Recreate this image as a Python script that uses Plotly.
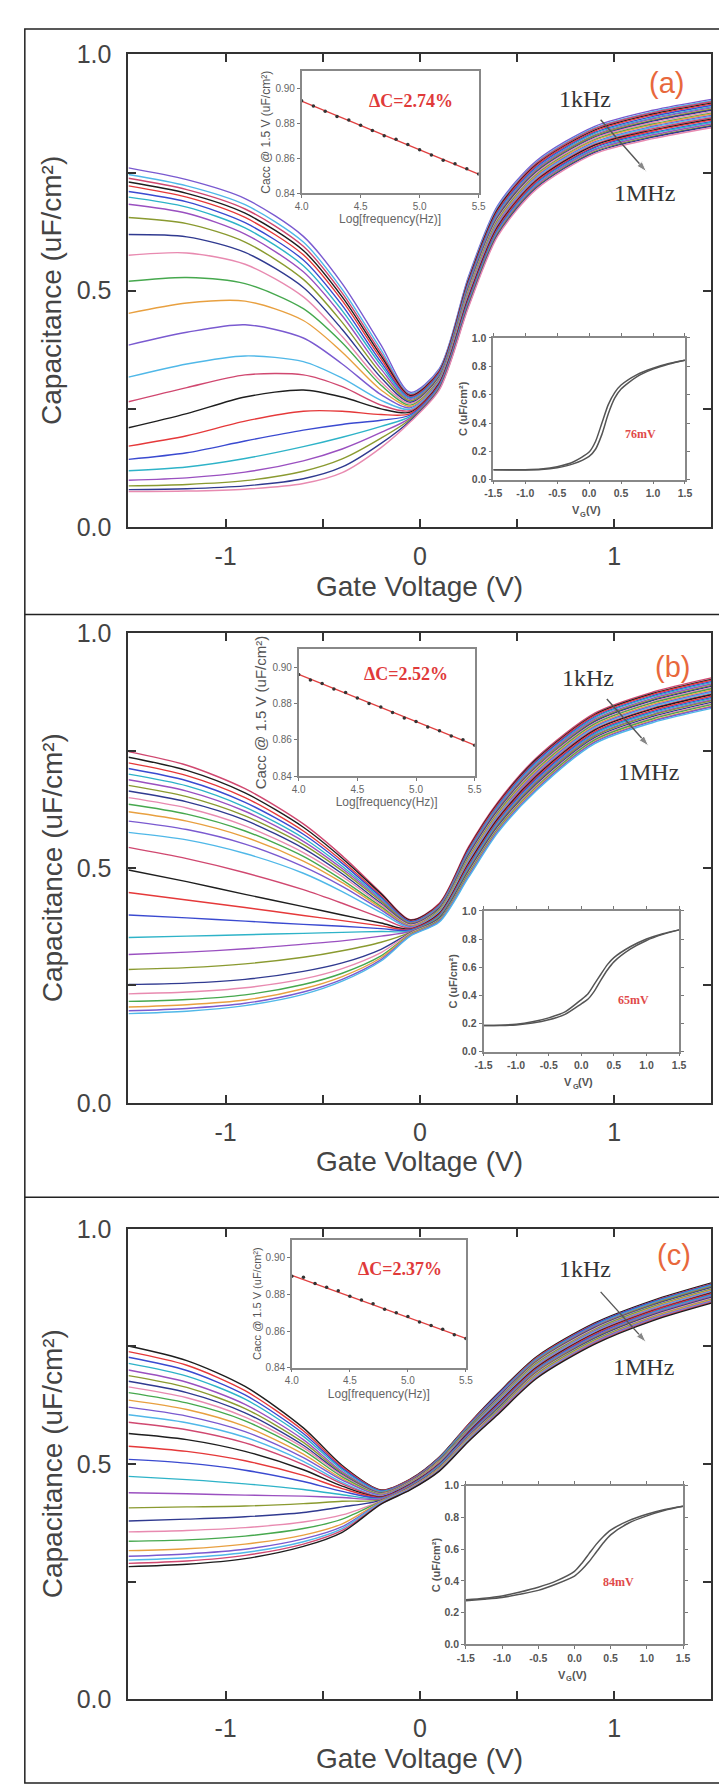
import plotly.graph_objects as go

W, H = 727, 1791

# ---------------- data ----------------
volt_main = [-1.5, -1.2, -0.9, -0.6, -0.4, -0.2, -0.05, 0.1, 0.25, 0.4, 0.6, 0.9, 1.2, 1.5]

cap_a = [
    [0.760, 0.735, 0.695, 0.615, 0.515, 0.385, 0.285, 0.335, 0.530, 0.680, 0.775, 0.848, 0.882, 0.905],
    [0.746, 0.722, 0.682, 0.603, 0.503, 0.375, 0.282, 0.333, 0.527, 0.677, 0.772, 0.845, 0.879, 0.902],
    [0.738, 0.714, 0.673, 0.594, 0.495, 0.368, 0.280, 0.331, 0.524, 0.674, 0.770, 0.843, 0.877, 0.900],
    [0.730, 0.706, 0.664, 0.585, 0.487, 0.362, 0.278, 0.329, 0.522, 0.672, 0.767, 0.840, 0.874, 0.897],
    [0.722, 0.698, 0.655, 0.576, 0.479, 0.356, 0.276, 0.327, 0.519, 0.669, 0.765, 0.838, 0.872, 0.895],
    [0.710, 0.688, 0.644, 0.565, 0.469, 0.349, 0.274, 0.325, 0.516, 0.666, 0.762, 0.835, 0.869, 0.892],
    [0.698, 0.677, 0.633, 0.553, 0.458, 0.342, 0.272, 0.323, 0.513, 0.663, 0.759, 0.833, 0.866, 0.889],
    [0.683, 0.664, 0.620, 0.540, 0.447, 0.334, 0.270, 0.321, 0.510, 0.660, 0.757, 0.830, 0.864, 0.887],
    [0.655, 0.642, 0.603, 0.524, 0.433, 0.325, 0.267, 0.319, 0.507, 0.657, 0.754, 0.828, 0.861, 0.884],
    [0.619, 0.614, 0.581, 0.507, 0.418, 0.316, 0.264, 0.317, 0.505, 0.655, 0.752, 0.825, 0.859, 0.882],
    [0.575, 0.580, 0.556, 0.487, 0.403, 0.307, 0.261, 0.315, 0.502, 0.652, 0.749, 0.823, 0.856, 0.879],
    [0.520, 0.528, 0.515, 0.462, 0.390, 0.300, 0.258, 0.313, 0.499, 0.649, 0.746, 0.820, 0.853, 0.876],
    [0.452, 0.474, 0.478, 0.437, 0.370, 0.290, 0.255, 0.311, 0.496, 0.646, 0.744, 0.818, 0.851, 0.874],
    [0.385, 0.412, 0.428, 0.400, 0.345, 0.280, 0.252, 0.310, 0.493, 0.643, 0.741, 0.815, 0.848, 0.871],
    [0.317, 0.345, 0.362, 0.350, 0.315, 0.268, 0.249, 0.308, 0.490, 0.640, 0.739, 0.813, 0.846, 0.869],
    [0.265, 0.295, 0.322, 0.322, 0.297, 0.258, 0.246, 0.306, 0.488, 0.638, 0.736, 0.810, 0.843, 0.866],
    [0.210, 0.240, 0.275, 0.290, 0.275, 0.250, 0.243, 0.304, 0.485, 0.635, 0.733, 0.808, 0.840, 0.863],
    [0.171, 0.193, 0.224, 0.245, 0.245, 0.238, 0.240, 0.302, 0.482, 0.632, 0.731, 0.805, 0.838, 0.861],
    [0.143, 0.157, 0.182, 0.205, 0.217, 0.226, 0.237, 0.300, 0.479, 0.629, 0.728, 0.803, 0.835, 0.858],
    [0.119, 0.127, 0.145, 0.170, 0.190, 0.213, 0.234, 0.298, 0.476, 0.626, 0.726, 0.800, 0.833, 0.856],
    [0.099, 0.104, 0.116, 0.140, 0.165, 0.200, 0.231, 0.296, 0.473, 0.623, 0.723, 0.798, 0.830, 0.853],
    [0.087, 0.090, 0.098, 0.118, 0.144, 0.188, 0.228, 0.294, 0.471, 0.621, 0.720, 0.795, 0.827, 0.850],
    [0.079, 0.081, 0.087, 0.102, 0.127, 0.177, 0.225, 0.292, 0.468, 0.618, 0.718, 0.793, 0.825, 0.848],
    [0.075, 0.076, 0.080, 0.092, 0.115, 0.168, 0.222, 0.290, 0.465, 0.615, 0.715, 0.790, 0.822, 0.845],
]

cap_b = [
    [0.748, 0.719, 0.669, 0.594, 0.526, 0.447, 0.390, 0.425, 0.545, 0.640, 0.735, 0.830, 0.875, 0.905],
    [0.736, 0.708, 0.660, 0.587, 0.521, 0.445, 0.389, 0.423, 0.542, 0.637, 0.732, 0.827, 0.872, 0.902],
    [0.724, 0.697, 0.650, 0.579, 0.515, 0.441, 0.387, 0.422, 0.540, 0.635, 0.729, 0.825, 0.870, 0.900],
    [0.712, 0.686, 0.640, 0.572, 0.510, 0.438, 0.386, 0.420, 0.537, 0.632, 0.727, 0.822, 0.867, 0.897],
    [0.700, 0.675, 0.630, 0.564, 0.504, 0.435, 0.384, 0.419, 0.535, 0.630, 0.724, 0.820, 0.865, 0.895],
    [0.688, 0.664, 0.621, 0.557, 0.499, 0.432, 0.383, 0.417, 0.532, 0.627, 0.721, 0.817, 0.862, 0.892],
    [0.676, 0.652, 0.611, 0.550, 0.494, 0.429, 0.382, 0.415, 0.529, 0.624, 0.718, 0.814, 0.859, 0.889],
    [0.664, 0.641, 0.602, 0.542, 0.488, 0.425, 0.380, 0.414, 0.527, 0.622, 0.715, 0.812, 0.857, 0.887],
    [0.650, 0.628, 0.590, 0.533, 0.482, 0.422, 0.379, 0.412, 0.524, 0.619, 0.713, 0.809, 0.854, 0.884],
    [0.636, 0.615, 0.579, 0.525, 0.475, 0.418, 0.377, 0.411, 0.522, 0.617, 0.710, 0.807, 0.852, 0.882],
    [0.620, 0.600, 0.566, 0.515, 0.469, 0.415, 0.376, 0.409, 0.519, 0.614, 0.707, 0.804, 0.849, 0.879],
    [0.600, 0.582, 0.551, 0.503, 0.461, 0.411, 0.375, 0.407, 0.516, 0.611, 0.704, 0.801, 0.846, 0.876],
    [0.576, 0.560, 0.531, 0.489, 0.450, 0.405, 0.373, 0.406, 0.514, 0.609, 0.701, 0.799, 0.844, 0.874],
    [0.544, 0.520, 0.490, 0.454, 0.425, 0.394, 0.372, 0.404, 0.511, 0.606, 0.699, 0.796, 0.841, 0.871],
    [0.496, 0.471, 0.444, 0.418, 0.400, 0.383, 0.370, 0.403, 0.509, 0.604, 0.696, 0.794, 0.839, 0.869],
    [0.448, 0.432, 0.416, 0.399, 0.388, 0.377, 0.369, 0.401, 0.506, 0.601, 0.693, 0.791, 0.836, 0.866],
    [0.400, 0.394, 0.387, 0.380, 0.376, 0.371, 0.368, 0.399, 0.503, 0.598, 0.690, 0.788, 0.833, 0.863],
    [0.352, 0.355, 0.358, 0.361, 0.363, 0.365, 0.366, 0.398, 0.501, 0.596, 0.687, 0.786, 0.831, 0.861],
    [0.316, 0.321, 0.328, 0.338, 0.345, 0.355, 0.365, 0.396, 0.498, 0.593, 0.685, 0.783, 0.828, 0.858],
    [0.284, 0.288, 0.296, 0.310, 0.324, 0.342, 0.363, 0.395, 0.496, 0.591, 0.682, 0.781, 0.826, 0.856],
    [0.252, 0.255, 0.263, 0.280, 0.298, 0.327, 0.362, 0.393, 0.493, 0.588, 0.679, 0.778, 0.823, 0.853],
    [0.232, 0.236, 0.245, 0.264, 0.286, 0.320, 0.361, 0.391, 0.490, 0.585, 0.676, 0.775, 0.820, 0.850],
    [0.216, 0.220, 0.230, 0.252, 0.276, 0.313, 0.359, 0.390, 0.488, 0.583, 0.673, 0.773, 0.818, 0.848],
    [0.204, 0.209, 0.219, 0.243, 0.269, 0.309, 0.358, 0.388, 0.485, 0.580, 0.671, 0.770, 0.815, 0.845],
    [0.196, 0.201, 0.212, 0.236, 0.263, 0.305, 0.356, 0.387, 0.483, 0.578, 0.668, 0.768, 0.813, 0.843],
    [0.190, 0.195, 0.207, 0.231, 0.259, 0.302, 0.355, 0.385, 0.480, 0.575, 0.665, 0.765, 0.810, 0.840],
]

cap_c = [
    [0.751, 0.720, 0.665, 0.577, 0.497, 0.445, 0.468, 0.515, 0.585, 0.650, 0.728, 0.800, 0.848, 0.885],
    [0.739, 0.710, 0.656, 0.571, 0.494, 0.444, 0.467, 0.514, 0.584, 0.648, 0.726, 0.798, 0.846, 0.883],
    [0.727, 0.699, 0.647, 0.565, 0.491, 0.443, 0.466, 0.513, 0.582, 0.647, 0.724, 0.797, 0.845, 0.882],
    [0.714, 0.687, 0.638, 0.559, 0.488, 0.442, 0.465, 0.512, 0.581, 0.645, 0.723, 0.795, 0.843, 0.880],
    [0.700, 0.674, 0.627, 0.552, 0.484, 0.440, 0.465, 0.510, 0.579, 0.643, 0.721, 0.793, 0.841, 0.878],
    [0.688, 0.663, 0.618, 0.546, 0.481, 0.439, 0.464, 0.509, 0.578, 0.641, 0.719, 0.791, 0.840, 0.877],
    [0.676, 0.652, 0.609, 0.540, 0.478, 0.438, 0.463, 0.508, 0.576, 0.640, 0.717, 0.790, 0.838, 0.875],
    [0.664, 0.641, 0.600, 0.535, 0.476, 0.437, 0.462, 0.507, 0.575, 0.638, 0.716, 0.788, 0.836, 0.873],
    [0.652, 0.630, 0.592, 0.529, 0.473, 0.436, 0.461, 0.506, 0.574, 0.636, 0.714, 0.786, 0.835, 0.872],
    [0.636, 0.616, 0.580, 0.521, 0.469, 0.435, 0.460, 0.505, 0.572, 0.634, 0.712, 0.784, 0.833, 0.870],
    [0.621, 0.602, 0.569, 0.514, 0.466, 0.434, 0.459, 0.503, 0.571, 0.633, 0.710, 0.783, 0.831, 0.868],
    [0.605, 0.588, 0.557, 0.506, 0.461, 0.432, 0.458, 0.502, 0.569, 0.631, 0.709, 0.781, 0.830, 0.867],
    [0.589, 0.573, 0.545, 0.499, 0.458, 0.431, 0.457, 0.501, 0.568, 0.629, 0.707, 0.779, 0.828, 0.865],
    [0.565, 0.552, 0.527, 0.488, 0.453, 0.430, 0.457, 0.500, 0.567, 0.628, 0.705, 0.778, 0.826, 0.864],
    [0.538, 0.527, 0.507, 0.476, 0.448, 0.429, 0.456, 0.499, 0.565, 0.626, 0.703, 0.776, 0.825, 0.862],
    [0.510, 0.502, 0.487, 0.463, 0.442, 0.428, 0.455, 0.498, 0.564, 0.624, 0.701, 0.774, 0.823, 0.860],
    [0.474, 0.467, 0.458, 0.446, 0.435, 0.427, 0.454, 0.497, 0.562, 0.622, 0.700, 0.772, 0.822, 0.859],
    [0.439, 0.437, 0.434, 0.432, 0.429, 0.426, 0.453, 0.495, 0.561, 0.621, 0.698, 0.771, 0.820, 0.857],
    [0.407, 0.409, 0.411, 0.416, 0.421, 0.424, 0.452, 0.494, 0.559, 0.619, 0.696, 0.769, 0.818, 0.855],
    [0.379, 0.383, 0.388, 0.397, 0.409, 0.423, 0.451, 0.493, 0.558, 0.617, 0.694, 0.767, 0.817, 0.854],
    [0.356, 0.359, 0.365, 0.377, 0.392, 0.422, 0.450, 0.492, 0.557, 0.615, 0.693, 0.765, 0.815, 0.852],
    [0.336, 0.339, 0.347, 0.363, 0.383, 0.421, 0.449, 0.491, 0.555, 0.614, 0.691, 0.764, 0.813, 0.850],
    [0.316, 0.320, 0.330, 0.349, 0.373, 0.420, 0.449, 0.490, 0.554, 0.612, 0.689, 0.762, 0.812, 0.849],
    [0.304, 0.309, 0.319, 0.341, 0.367, 0.419, 0.448, 0.488, 0.552, 0.610, 0.687, 0.760, 0.810, 0.847],
    [0.296, 0.301, 0.312, 0.335, 0.363, 0.418, 0.447, 0.487, 0.551, 0.608, 0.686, 0.758, 0.808, 0.845],
    [0.289, 0.294, 0.306, 0.330, 0.359, 0.416, 0.446, 0.486, 0.549, 0.607, 0.684, 0.757, 0.807, 0.844],
    [0.282, 0.287, 0.299, 0.325, 0.355, 0.415, 0.445, 0.485, 0.548, 0.605, 0.682, 0.755, 0.805, 0.842],
]

log_freq = [4.0, 4.1, 4.2, 4.3, 4.4, 4.5, 4.6, 4.7, 4.8, 4.9, 5.0, 5.1, 5.2, 5.3, 5.4, 5.5]
cacc_a = [0.893, 0.890, 0.887, 0.884, 0.882, 0.879, 0.876, 0.873, 0.871, 0.868, 0.865, 0.862, 0.859, 0.857, 0.854, 0.851]
cacc_b = [0.896, 0.893, 0.891, 0.888, 0.886, 0.883, 0.880, 0.878, 0.875, 0.872, 0.870, 0.867, 0.865, 0.862, 0.860, 0.857]
cacc_c = [0.890, 0.8895, 0.886, 0.884, 0.882, 0.879, 0.877, 0.875, 0.872, 0.870, 0.868, 0.865, 0.863, 0.861, 0.858, 0.856]
fit_x = [4.0, 5.5]
fit_a = [0.8928, 0.8510]
fit_b = [0.8960, 0.8570]
fit_c = [0.8905, 0.8560]

volt_hys = [-1.5, -1.25, -1.0, -0.75, -0.5, -0.25, 0.0, 0.1, 0.2, 0.3, 0.4, 0.5, 0.75, 1.0, 1.25, 1.5]
hys_a_fwd = [0.070, 0.070, 0.071, 0.076, 0.092, 0.125, 0.195, 0.270, 0.400, 0.530, 0.615, 0.668, 0.742, 0.787, 0.820, 0.843]
hys_a_rev = [0.070, 0.069, 0.069, 0.072, 0.085, 0.112, 0.165, 0.215, 0.320, 0.465, 0.575, 0.640, 0.728, 0.780, 0.816, 0.843]
hys_b_fwd = [0.185, 0.188, 0.195, 0.212, 0.240, 0.282, 0.370, 0.410, 0.480, 0.550, 0.618, 0.668, 0.745, 0.800, 0.838, 0.865]
hys_b_rev = [0.185, 0.186, 0.190, 0.203, 0.226, 0.265, 0.340, 0.372, 0.430, 0.508, 0.580, 0.638, 0.728, 0.790, 0.833, 0.865]
hys_c_fwd = [0.280, 0.290, 0.305, 0.330, 0.360, 0.400, 0.460, 0.510, 0.570, 0.630, 0.680, 0.720, 0.780, 0.820, 0.850, 0.870]
hys_c_rev = [0.275, 0.284, 0.295, 0.316, 0.340, 0.380, 0.430, 0.470, 0.520, 0.580, 0.640, 0.690, 0.765, 0.810, 0.845, 0.870]

panel_labels = ["(a)", "(b)", "(c)"]
delta_labels = ["ΔC=2.74%", "ΔC=2.52%", "ΔC=2.37%"]
shift_labels = ["76mV", "65mV", "84mV"]
freq_labels = ["1kHz", "1MHz"]
main_x_ticks = [-1, 0, 1]
main_y_ticks = [0.0, 0.5, 1.0]
top_x_ticks = [4.0, 4.5, 5.0, 5.5]
top_y_ticks = [0.84, 0.86, 0.88, 0.90]
bot_x_ticks = [-1.5, -1.0, -0.5, 0.0, 0.5, 1.0, 1.5]
bot_y_ticks = [0.0, 0.2, 0.4, 0.6, 0.8, 1.0]

# ---------------- styling / layout ----------------
palette = ['#1e1e1e', '#e5393a', '#3a4ad0', '#2eb3c8', '#9a50c0', '#8a9a30', '#303a90',
           '#e88ab0', '#46a84e', '#e8a040', '#7a5ad0', '#50b8e8', '#d04870']

def fx(p):
    return p / W

def fy(p):
    return 1 - p / H

main_frames = [(114, 710, 33, 513), (114, 710, 621, 1098), (114, 710, 1226, 1704)]
top_frames = [(291, 472, 50, 174), (288, 468, 637, 766), (281, 459, 1237, 1367)]
bot_frames = [(487, 683, 321, 465), (477, 677, 903, 1046), (459, 681, 1487, 1648)]
black_index = [16, 14, 13]
ytitle_top_size = [12, 15, 11]

panels = [
    dict(cap=cap_a, cacc=cacc_a, fit=fit_a, fwd=hys_a_fwd, rev=hys_a_rev,
         lab=(1.27, 0.94), khz=(0.85, 0.905), mhz=(1.155, 0.706), arr=((0.93, 0.862), (1.166, 0.752)),
         dpos=(4.93, 0.893), spos=(0.80, 0.326)),
    dict(cap=cap_b, cacc=cacc_b, fit=fit_b, fwd=hys_b_fwd, rev=hys_b_rev,
         lab=(1.30, 0.928), khz=(0.866, 0.905), mhz=(1.177, 0.705), arr=((0.962, 0.86), (1.177, 0.76)),
         dpos=(4.915, 0.896), spos=(0.80, 0.37)),
    dict(cap=cap_c, cacc=cacc_c, fit=fit_c, fwd=hys_c_fwd, rev=hys_c_rev,
         lab=(1.31, 0.945), khz=(0.847, 0.915), mhz=(1.153, 0.707), arr=((0.93, 0.866), (1.164, 0.759)),
         dpos=(4.93, 0.894), spos=(0.61, 0.39)),
]

fig = go.Figure()
layout_axes = {}
annotations = []
shapes = []

SANS = "Liberation Sans, Arial, sans-serif"
SERIF = "Liberation Serif, Times New Roman, serif"
TXT = '#444444'

def axname(n):
    return ('x' if n == 1 else f'x{n}'), ('y' if n == 1 else f'y{n}')

def axkey(n):
    return ('xaxis' if n == 1 else f'xaxis{n}'), ('yaxis' if n == 1 else f'yaxis{n}')

for k, p in enumerate(panels):
    nm, nt, nb = 3 * k + 1, 3 * k + 2, 3 * k + 3
    # ---- main curves
    xa, ya = axname(nm)
    for i, row in enumerate(p['cap']):
        col = palette[(i - black_index[k]) % len(palette)]
        fig.add_trace(go.Scatter(x=volt_main, y=row, mode='lines', xaxis=xa, yaxis=ya,
                                 line=dict(color=col, width=1.4, shape='spline', smoothing=0.8),
                                 hoverinfo='skip', showlegend=False))
    # frequency arrow (1kHz -> 1MHz)
    (tx, ty), (hx, hy) = p['arr']
    fig.add_trace(go.Scatter(x=[tx, hx], y=[ty, hy], mode='lines+markers', xaxis=xa, yaxis=ya,
                             line=dict(color='#555', width=1.4),
                             marker=dict(symbol=['circle', 'arrow'], size=[0, 11], color='#555',
                                         angleref='previous'),
                             hoverinfo='skip', showlegend=False))
    l, r, t, b = main_frames[k]
    kx, ky = axkey(nm)
    layout_axes[kx] = dict(domain=[fx(l), fx(r)], range=[-1.5, 1.5], anchor=ya,
                           tickvals=main_x_ticks, ticktext=[str(v) for v in main_x_ticks],
                           ticks='inside', ticklen=8, tickwidth=1.5, tickcolor='#333',
                           showline=True, linecolor='#333', linewidth=2, mirror='allticks',
                           showgrid=False, zeroline=False, ticklabelstandoff=6,
                           tickfont=dict(family=SANS, size=25, color=TXT),
                           minor=dict(tickvals=[-1.5, -0.5, 0.5, 1.5], ticks='inside', ticklen=8,
                                      tickwidth=1.5, tickcolor='#333', showgrid=False))
    layout_axes[ky] = dict(domain=[fy(b), fy(t)], range=[0, 1], anchor=xa,
                           tickvals=main_y_ticks, ticktext=['%.1f' % v for v in main_y_ticks],
                           ticks='inside', ticklen=8, tickwidth=1.5, tickcolor='#333',
                           showline=True, linecolor='#333', linewidth=2, mirror='allticks',
                           showgrid=False, zeroline=False, ticklabelstandoff=10,
                           tickfont=dict(family=SANS, size=25, color=TXT),
                           minor=dict(tickvals=[0.25, 0.75], ticks='inside', ticklen=8,
                                      tickwidth=1.5, tickcolor='#333', showgrid=False))
    # main titles
    annotations.append(dict(text='Capacitance (uF/cm²)', xref='paper', yref='paper',
                            x=fx(36), y=fy((t + b) / 2), textangle=-90, showarrow=False,
                            xanchor='center', yanchor='middle',
                            font=dict(family=SANS, size=28, color=TXT)))
    annotations.append(dict(text='Gate Voltage (V)', xref='paper', yref='paper',
                            x=fx((l + r) / 2), y=fy(b + 60), showarrow=False,
                            xanchor='center', yanchor='middle',
                            font=dict(family=SANS, size=28, color=TXT)))
    # labels in main
    annotations.append(dict(text=panel_labels[k], x=p['lab'][0], y=p['lab'][1], xref=xa, yref=ya,
                            showarrow=False, font=dict(family=SANS, size=29, color='#e8683c')))
    annotations.append(dict(text=freq_labels[0], x=p['khz'][0], y=p['khz'][1], xref=xa, yref=ya,
                            showarrow=False, font=dict(family=SERIF, size=24, color='#333')))
    annotations.append(dict(text=freq_labels[1], x=p['mhz'][0], y=p['mhz'][1], xref=xa, yref=ya,
                            showarrow=False, font=dict(family=SERIF, size=24, color='#333')))

    # ---- top inset (Cacc vs log f)
    xt, yt = axname(nt)
    fig.add_trace(go.Scatter(x=fit_x, y=p['fit'], mode='lines', xaxis=xt, yaxis=yt,
                             line=dict(color='#e04040', width=1.3), hoverinfo='skip', showlegend=False))
    fig.add_trace(go.Scatter(x=log_freq, y=p['cacc'], mode='markers', xaxis=xt, yaxis=yt,
                             marker=dict(color='#333', size=3.5), hoverinfo='skip', showlegend=False))
    l, r, t, b = top_frames[k]
    kx, ky = axkey(nt)
    layout_axes[kx] = dict(domain=[fx(l), fx(r)], range=[4.0, 5.5], anchor=yt,
                           tickvals=top_x_ticks, ticktext=['%.1f' % v for v in top_x_ticks],
                           ticks='outside', ticklen=3, tickcolor='#777',
                           showline=True, linecolor='#888', linewidth=1.5, mirror=True,
                           showgrid=False, zeroline=False,
                           tickfont=dict(family=SANS, size=10, color='#666'),
                           title=dict(text='Log[frequency(Hz)]', standoff=4,
                                      font=dict(family=SANS, size=12, color='#666')))
    layout_axes[ky] = dict(domain=[fy(b), fy(t)], range=[0.84, 0.91], anchor=xt,
                           tickvals=top_y_ticks, ticktext=['%.2f' % v for v in top_y_ticks],
                           ticks='outside', ticklen=3, tickcolor='#777',
                           showline=True, linecolor='#888', linewidth=1.5, mirror=True,
                           showgrid=False, zeroline=False,
                           tickfont=dict(family=SANS, size=10, color='#666'),
                           title=dict(text='Cacc @ 1.5 V (uF/cm²)', standoff=2,
                                      font=dict(family=SANS, size=ytitle_top_size[k], color='#555')))
    annotations.append(dict(text=delta_labels[k], x=p['dpos'][0], y=p['dpos'][1],
                            xref=xt, yref=yt, showarrow=False,
                            font=dict(family=SERIF, size=18, color='#e03a3a', weight='bold')))

    # ---- bottom inset (hysteresis)
    xb, yb = axname(nb)
    fig.add_trace(go.Scatter(x=volt_hys, y=p['fwd'], mode='lines', xaxis=xb, yaxis=yb,
                             line=dict(color='#555', width=1.5, shape='spline', smoothing=0.7),
                             hoverinfo='skip', showlegend=False))
    fig.add_trace(go.Scatter(x=volt_hys, y=p['rev'], mode='lines', xaxis=xb, yaxis=yb,
                             line=dict(color='#555', width=1.5, shape='spline', smoothing=0.7),
                             hoverinfo='skip', showlegend=False))
    l, r, t, b = bot_frames[k]
    kx, ky = axkey(nb)
    layout_axes[kx] = dict(domain=[fx(l), fx(r)], range=[-1.5, 1.5], anchor=yb,
                           tickvals=bot_x_ticks, ticktext=['%.1f' % v for v in bot_x_ticks],
                           ticks='outside', ticklen=3, tickcolor='#777',
                           showline=True, linecolor='#888', linewidth=1.5, mirror='ticks',
                           showgrid=False, zeroline=False,
                           tickfont=dict(family=SANS, size=10.5, color='#555', weight='bold'))
    layout_axes[ky] = dict(domain=[fy(b), fy(t)], range=[0, 1.0], anchor=xb,
                           tickvals=bot_y_ticks, ticktext=['%.1f' % v for v in bot_y_ticks],
                           ticks='outside', ticklen=3, tickcolor='#777',
                           showline=True, linecolor='#888', linewidth=1.5, mirror='ticks',
                           showgrid=False, zeroline=False,
                           tickfont=dict(family=SANS, size=10.5, color='#555', weight='bold'),
                           title=dict(text='C (uF/cm²)', standoff=2,
                                      font=dict(family=SANS, size=11, color='#555', weight='bold')))
    # x title "V_G (V)" built from three pieces
    cx = (l + r) / 2
    vf = dict(family=SANS, size=11, color='#555', weight='bold')
    annotations.append(dict(text='V', xref='paper', yref='paper', x=fx(cx - 8), y=fy(b + 31),
                            xanchor='right', yanchor='middle', showarrow=False, font=vf, borderpad=0))
    annotations.append(dict(text='G', xref='paper', yref='paper', x=fx(cx - 10), y=fy(b + 35),
                            xanchor='left', yanchor='middle', showarrow=False, borderpad=0,
                            font=dict(family=SANS, size=7.5, color='#555', weight='bold')))
    annotations.append(dict(text='(V)', xref='paper', yref='paper', x=fx(cx - 4), y=fy(b + 31),
                            xanchor='left', yanchor='middle', showarrow=False, font=vf, borderpad=0))
    annotations.append(dict(text=shift_labels[k], x=p['spos'][0], y=p['spos'][1],
                            xref=xb, yref=yb, showarrow=False,
                            font=dict(family=SERIF, size=12, color='#e04a4a', weight='bold')))

# panel borders
shapes.append(dict(type='rect', xref='paper', yref='paper', x0=fx(8), x1=fx(721), y0=fy(1789), y1=fy(7),
                   line=dict(color='#222', width=1.5)))
for sep in (602, 1194):
    shapes.append(dict(type='line', xref='paper', yref='paper', x0=fx(8), x1=fx(721), y0=fy(sep), y1=fy(sep),
                       line=dict(color='#222', width=1.5)))

fig.update_layout(width=W, height=H, margin=dict(l=0, r=0, t=0, b=0),
                  paper_bgcolor='white', plot_bgcolor='white', showlegend=False,
                  annotations=annotations, shapes=shapes, **layout_axes)

fig.write_html("out.html")
